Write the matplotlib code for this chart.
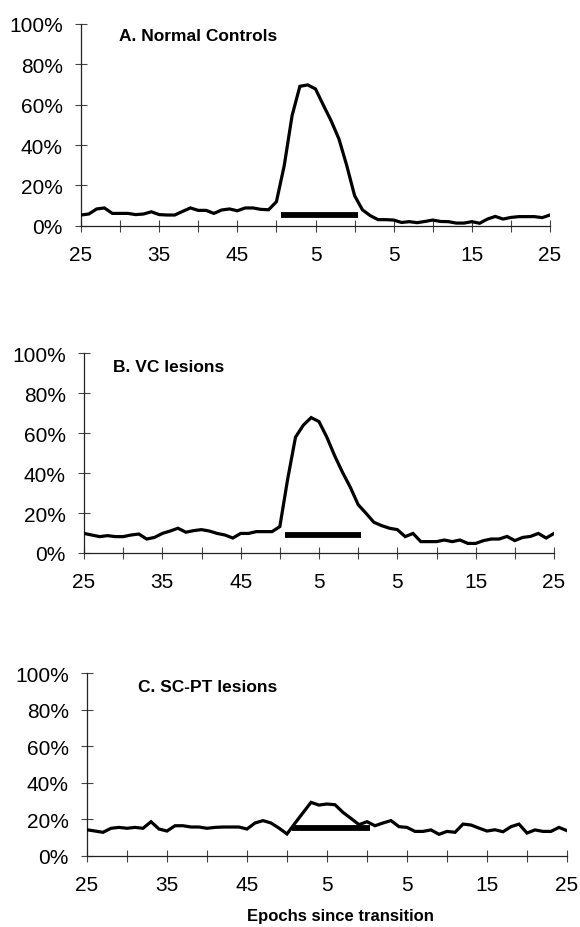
import numpy as np
import matplotlib
matplotlib.use("Agg")
import matplotlib.pyplot as plt

plt.rcParams['font.family'] = ['Liberation Sans', 'DejaVu Sans']

# ---- data (percent of trials) ----
panel_titles = ["A. Normal Controls", "B. VC lesions", "C. SC-PT lesions"]
normal_controls = [5.3, 5.8, 8.3, 8.8, 6.1, 6.1, 6.1, 5.5, 5.8, 6.9,
                   5.5, 5.3, 5.3, 7.1, 8.8, 7.6, 7.6, 6.1, 7.8, 8.3,
                   7.4, 8.8, 8.8, 8.1, 7.9, 11.9, 29.8, 54.5, 69.1, 69.8,
                   67.8, 59.8, 52.0, 43.0, 29.8, 14.9, 7.9, 5.0, 3.0, 3.0,
                   2.8, 1.6, 2.0, 1.5, 2.1, 2.8, 2.1, 2.0, 1.3, 1.3,
                   2.0, 1.2, 3.3, 4.6, 3.3, 4.1, 4.5, 4.5, 4.5, 4.0, 5.3]
vc_lesions = [9.8, 9.0, 8.2, 8.7, 8.2, 8.2, 9.0, 9.5, 7.0, 7.8,
              9.8, 11.0, 12.4, 10.4, 11.2, 11.7, 11.0, 9.8, 9.0, 7.5,
              9.8, 9.8, 10.7, 10.7, 10.7, 13.2, 37.0, 58.0, 64.0, 67.8,
              65.8, 58.0, 48.7, 40.4, 32.9, 24.2, 19.9, 15.4, 13.7, 12.4,
              11.7, 8.2, 9.8, 5.7, 5.7, 5.7, 6.5, 5.7, 6.5, 4.8,
              4.8, 6.2, 7.0, 7.0, 8.3, 6.2, 7.8, 8.3, 9.8, 7.5, 9.8]
scpt_lesions = [14.2, 13.5, 12.8, 15.0, 15.5, 15.0, 15.5, 15.0, 18.6, 14.6,
                13.5, 16.4, 16.4, 15.7, 15.7, 15.0, 15.5, 15.7, 15.7, 15.7,
                14.6, 17.9, 19.2, 17.9, 15.1, 11.9, 17.8, 23.5, 29.2, 27.7,
                28.3, 27.9, 23.7, 20.4, 17.0, 18.6, 16.4, 17.9, 19.2, 15.9,
                15.5, 13.3, 13.3, 14.1, 11.7, 13.3, 12.8, 17.3, 16.8, 15.1,
                13.5, 14.2, 13.1, 15.9, 17.3, 12.4, 14.1, 13.3, 13.3, 15.5, 13.7]
series = [normal_controls, vc_lesions, scpt_lesions]

# transition period bar (epoch index span) and its level per panel
transition_span = [25.6, 35.4]
bar_levels = [5.5, 9.0, 15.0]

x_tick_labels = ["25", "", "35", "", "45", "", "5", "", "5", "", "15", "", "25"]
y_ticks = [0, 20, 40, 60, 80, 100]
y_tick_labels = ["0%", "20%", "40%", "60%", "80%", "100%"]
x_label = "Epochs since transition"

# ---- layout ----
fig = plt.figure(figsize=(5.8, 9.28), dpi=100)
W, H = 580.0, 928.0
# (left, right, top, bottom) in pixels
boxes = [(81, 550, 25, 226.7), (84, 554, 354.3, 554), (87, 567, 674, 856.7)]
title_pos = [(0.081, 0.942), (0.061, 0.933), (0.106, 0.925)]

for i, (vals, box) in enumerate(zip(series, boxes)):
    l, r, t, b = box
    ax = fig.add_axes([l / W, 1 - b / H, (r - l) / W, (b - t) / H])
    xs = np.arange(len(vals))
    ax.plot(xs, vals, color='black', lw=2.3, solid_joinstyle='miter', zorder=3)
    ax.plot(transition_span, [bar_levels[i]] * 2, color='black', lw=4.2,
            solid_capstyle='butt', zorder=4)
    ax.set_xlim(0, len(vals) - 1)
    ax.set_ylim(0, 100)
    ax.set_xticks(np.arange(0, len(vals), 5))
    ax.set_xticklabels(x_tick_labels)
    ax.set_yticks(y_ticks)
    ax.set_yticklabels(y_tick_labels)
    for s in ['top', 'right']:
        ax.spines[s].set_visible(False)
    for s in ['left', 'bottom']:
        ax.spines[s].set_color('#222222')
        ax.spines[s].set_linewidth(0.9)
    ax.tick_params(axis='both', direction='inout', length=8, width=0.8,
                   color='#444444', labelsize=15)
    ax.tick_params(axis='y', pad=9)
    ax.tick_params(axis='x', pad=10)
    ax.text(title_pos[i][0], title_pos[i][1], panel_titles[i],
            transform=ax.transAxes, fontsize=12.5, fontweight='bold',
            ha='left', va='center')
    if i == 2:
        fig.text(340 / W, 1 - 916.7 / H, x_label, fontsize=12,
                 fontweight='bold', ha='center', va='center')

fig.savefig("out.png", dpi=100, facecolor='white')
